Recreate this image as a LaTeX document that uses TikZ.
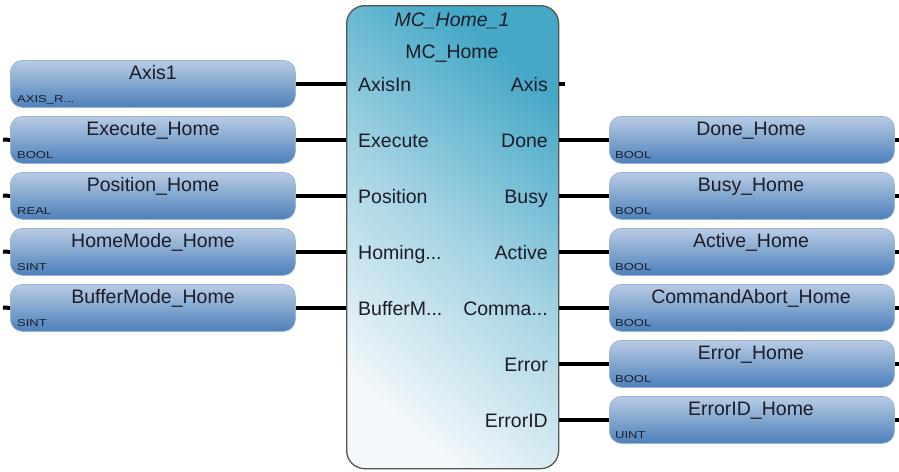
\documentclass[tikz,border=0pt]{standalone}
\usepackage{fontspec}
\setmainfont{Liberation Sans}
\begin{document}
\begin{tikzpicture}[x=1pt,y=-1pt,
  varbox/.style={draw=boxedge, line width=0.8pt, top color=boxtop, bottom color=boxbot,
     rounded corners=12pt, minimum width=285pt, minimum height=47pt, anchor=north west, inner sep=0pt},
  fbblock/.style={draw=blockedge, line width=1.3pt, rounded corners=18pt,
     minimum width=212pt, minimum height=463pt, anchor=north west, inner sep=0pt,
     top color=blocktop, bottom color=blockbot, middle color=blockmid, shading angle=-40},
  nametxt/.style={font=\fontsize{19.5}{22}\selectfont, text=txtcol, anchor=base, inner sep=0pt},
  typetxt/.style={font=\fontsize{10}{12}\selectfont, text=txtcol, anchor=base west, inner sep=0pt},
  pinin/.style={font=\fontsize{19.5}{22}\selectfont, text=txtcol, anchor=base west, inner sep=0pt},
  pinout/.style={font=\fontsize{19.5}{22}\selectfont, text=txtcol, anchor=base east, inner sep=0pt},
  wire/.style={line width=4pt, draw=black}
]
\definecolor{boxtop}{HTML}{B8CCE4}
\definecolor{boxbot}{HTML}{4C80BA}
\definecolor{boxedge}{HTML}{9DB5D4}
\definecolor{blocktop}{HTML}{45A8C7}
\definecolor{blockmid}{HTML}{A6D4E3}
\definecolor{blockbot}{HTML}{F3F8FB}
\definecolor{blockedge}{HTML}{555555}
\definecolor{txtcol}{HTML}{1C1C28}
\useasboundingbox (0,0) rectangle (899,471);

% function block
\node[fbblock] (bk) at (346,5) {};
\node[nametxt, font=\fontsize{19.5}{22}\selectfont\itshape] (inst) at (452,26) {MC\_Home\_1};
\node[nametxt] (ftype) at (452,58) {MC\_Home};

% inputs
\node[pinin] (pAxisIn) at (358,91) {AxisIn};
\node[pinin] (pExec) at (358,147) {Execute};
\node[pinin] (pPos) at (358,203) {Position};
\node[pinin] (pHom) at (358,259) {Homing...};
\node[pinin] (pBuf) at (358,315) {BufferM...};
% outputs
\node[pinout] (pAxis) at (548,91) {Axis};
\node[pinout] (pDone) at (548,147) {Done};
\node[pinout] (pBusy) at (548,203) {Busy};
\node[pinout] (pAct) at (548,259) {Active};
\node[pinout] (pCom) at (548,315) {Comma...};
\node[pinout] (pErr) at (548,371) {Error};
\node[pinout] (pErrID) at (548,427) {ErrorID};

% left variable boxes
\node[varbox] (l1) at (10,60) {};
\node[varbox] (l2) at (10,116) {};
\node[varbox] (l3) at (10,172) {};
\node[varbox] (l4) at (10,228) {};
\node[varbox] (l5) at (10,284) {};
\node[nametxt] (l1n) at (153,79) {Axis1};
\node[nametxt] (l2n) at (153,135) {Execute\_Home};
\node[nametxt] (l3n) at (153,191) {Position\_Home};
\node[nametxt] (l4n) at (153,247) {HomeMode\_Home};
\node[nametxt] (l5n) at (153,303) {BufferMode\_Home};
\node[typetxt] (l1t) at (17,102) {\scalebox{1.3}[1]{AXIS\_R...}};
\node[typetxt] (l2t) at (17,158) {\scalebox{1.3}[1]{BOOL}};
\node[typetxt] (l3t) at (17,214) {\scalebox{1.3}[1]{REAL}};
\node[typetxt] (l4t) at (17,270) {\scalebox{1.3}[1]{SINT}};
\node[typetxt] (l5t) at (17,326) {\scalebox{1.3}[1]{SINT}};

% right variable boxes
\node[varbox] (r1) at (609,116) {};
\node[varbox] (r2) at (609,172) {};
\node[varbox] (r3) at (609,228) {};
\node[varbox] (r4) at (609,284) {};
\node[varbox] (r5) at (609,340) {};
\node[varbox] (r6) at (609,396) {};
\node[nametxt] (r1n) at (751,135) {Done\_Home};
\node[nametxt] (r2n) at (751,191) {Busy\_Home};
\node[nametxt] (r3n) at (751,247) {Active\_Home};
\node[nametxt] (r4n) at (751,303) {CommandAbort\_Home};
\node[nametxt] (r5n) at (751,359) {Error\_Home};
\node[nametxt] (r6n) at (751,415) {ErrorID\_Home};
\node[typetxt] (r1t) at (615,158) {\scalebox{1.3}[1]{BOOL}};
\node[typetxt] (r2t) at (615,214) {\scalebox{1.3}[1]{BOOL}};
\node[typetxt] (r3t) at (615,270) {\scalebox{1.3}[1]{BOOL}};
\node[typetxt] (r4t) at (615,326) {\scalebox{1.3}[1]{BOOL}};
\node[typetxt] (r5t) at (615,382) {\scalebox{1.3}[1]{BOOL}};
\node[typetxt] (r6t) at (615,438) {\scalebox{1.3}[1]{UINT}};

% wires left
\foreach \b in {l1,l2,l3,l4,l5}{
  \draw[wire] (\b.east) -- (bk.west |- \b.east);
}
% wires right
\foreach \b in {r1,r2,r3,r4,r5,r6}{
  \draw[wire] (bk.east |- \b.west) -- (\b.west);
}
% stubs
\coordinate (s2) at (3,139.5);
\coordinate (s3) at (3,195.5);
\coordinate (s4) at (3,251.5);
\coordinate (s5) at (3,307.5);
\draw[wire] (s2) -- (l2.west);
\draw[wire] (s3) -- (l3.west);
\draw[wire] (s4) -- (l4.west);
\draw[wire] (s5) -- (l5.west);
\foreach \b in {r1,r2,r3,r4,r5,r6}{
  \draw[wire] (\b.east) -- ++(7,0);
}
\coordinate (axout) at (565,83.5);
\draw[wire] (bk.east |- axout) -- (axout);
\end{tikzpicture}
\end{document}
